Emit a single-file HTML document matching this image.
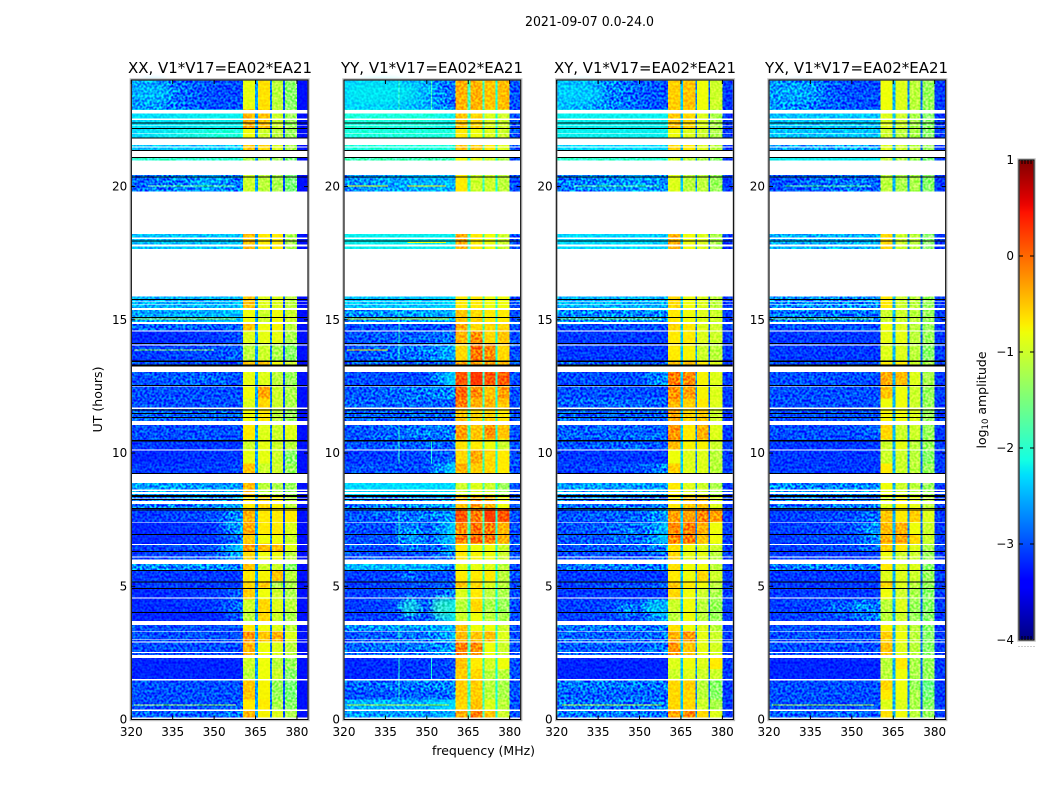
<!DOCTYPE html>
<html lang="en">
<head>
<meta charset="utf-8">
<title>2021-09-07 0.0-24.0</title>
<style>
html,body{margin:0;padding:0;background:#fff;}
svg{display:block;}
text{font-family:"DejaVu Sans","Liberation Sans",sans-serif;fill:#000;}
</style>
</head>
<body>
<svg id="figure" xmlns="http://www.w3.org/2000/svg" width="1050" height="800" viewBox="0 0 1050 800">
  <defs id="chart-defs">
    <filter id="speckle" x="0" y="0" width="100%" height="100%" color-interpolation-filters="sRGB">
      <feTurbulence type="fractalNoise" baseFrequency="0.42" numOctaves="1" seed="7"/>
      <feColorMatrix type="matrix" values="2.6 0 0 0 -0.8  2.6 0 0 0 -0.8  2.6 0 0 0 -0.8  0 0 0 0 1"/>
    </filter>
    <filter id="soften" x="-60%" y="-120%" width="220%" height="340%">
      <feGaussianBlur stdDeviation="4"/>
    </filter>
    <linearGradient id="jet-gradient" x1="0" y1="1" x2="0" y2="0"></linearGradient>
  </defs>
  <rect x="0" y="0" width="1050" height="800" fill="#fff"/>
  <text x="589.5" y="26" font-size="13" text-anchor="middle" textLength="129" lengthAdjust="spacingAndGlyphs">2021-09-07 0.0-24.0</text>

  <g id="panel-0">
    <text x="220" y="73" font-size="15" text-anchor="middle" textLength="184" lengthAdjust="spacingAndGlyphs">XX, V1*V17=EA02*EA21</text>
  </g>
  <g id="panel-1">
    <text x="432" y="73" font-size="15" text-anchor="middle" textLength="182" lengthAdjust="spacingAndGlyphs">YY, V1*V17=EA02*EA21</text>
  </g>
  <g id="panel-2">
    <text x="645" y="73" font-size="15" text-anchor="middle" textLength="182" lengthAdjust="spacingAndGlyphs">XY, V1*V17=EA02*EA21</text>
  </g>
  <g id="panel-3">
    <text x="856.5" y="73" font-size="15" text-anchor="middle" textLength="183" lengthAdjust="spacingAndGlyphs">YX, V1*V17=EA02*EA21</text>
  </g>

  <text x="483.5" y="755" font-size="12" text-anchor="middle" textLength="103" lengthAdjust="spacingAndGlyphs">frequency (MHz)</text>
  <text transform="translate(102,399.5) rotate(-90)" font-size="12" text-anchor="middle" textLength="66" lengthAdjust="spacingAndGlyphs">UT (hours)</text>
  <text transform="translate(986,400) rotate(-90)" font-size="12.5" text-anchor="middle">log<tspan font-size="8.5" dy="2">10</tspan><tspan dy="-2"> amplitude</tspan></text>

  <g id="colorbar"></g>
</svg>

<script>
// ---------- chart data (all values are log10 amplitude, read by eye) ----------
const frequencyTicks = [320, 335, 350, 365, 380];
const utTicks = [0, 5, 10, 15, 20];
const colorbarTicks = [1, 0, -1, -2, -3, -4];
const colorbarTickLabels = ['1', '0', '\u22121', '\u22122', '\u22123', '\u22124'];

// Frequency anchors (MHz) of the background levels / RFI band / notch columns
const bgAnchors = [320, 350, 360.4];
const bandEdges = [[360.4, 364.8], [365.8, 370.2], [370.9, 374.9], [375.6, 380]];
const notchEdges = [[364.8, 365.8], [370.2, 370.9], [374.9, 375.6], [380, 384]];

// UT blocks (hours)
const utRows = [
[0.07,0.35],[0.35,0.75],[0.75,1.1],[1.1,1.5],[1.5,1.9],[1.9,2.3],[2.3,2.9],[2.9,3.3],[3.3,3.7],[3.7,4.05],
[4.05,4.5],[4.5,4.95],[4.95,5.2],[5.2,5.6],[5.6,6],[6,6.3],[6.3,6.6],[6.6,6.95],[6.95,7.4],[7.4,7.9],
[7.9,8.4],[8.4,8.9],[9.2,9.6],[9.6,10.1],[10.1,10.5],[10.5,11.05],[11.05,11.65],[11.65,12.05],[12.05,12.5],[12.5,13.05],
[13.05,13.46],[13.46,14.1],[14.1,14.6],[14.6,14.9],[14.9,15.4],[15.4,15.9],[17.65,18.22],[19.81,20.44],[20.44,21.1],[21.1,21.57],
[21.57,22.2],[22.2,22.9],[22.9,24]];

// Each row: bg-left, bg-mid, bg-right, band1, band2, band3, band4
const xxRows = [
[-2.9,-2.9,-2.8,-.4,-.75,-.9,-1.2],[-3,-3,-2.9,-.7,-.7,-1.2,-1.4],[-3,-3,-3,-.5,-.75,-1.3,-1.5],[-3,-3,-3,-.5,-.75,-1.3,-1.5],[-3.2,-3.2,-3.2,-1.1,-.8,-1,-1.4],
[-3.2,-3.2,-3.2,-1,-.8,-1.1,-1.3],[-3,-3,-3,-.4,-.8,-.9,-1.1],[-3,-3,-3,-.25,-.5,-.4,-.9],[-3,-3,-3,-.7,-.8,-.9,-1.1],[-3.2,-3.2,-2.9,-1.1,-.6,-1,-1.2],
[-3.2,-3.1,-2.8,-1,-.6,-.9,-1.1],[-3.2,-3.1,-2.9,-.55,-.8,-1,-1.2],[-3.1,-3.1,-3.1,-.6,-.5,-1.2,-1.2],[-3.1,-3.1,-3.1,-.7,-.75,-.5,-1.1],[-2.7,-2.7,-2.8,-.5,-1,-1,-1.4],
[-3.1,-3,-2.5,-.6,-.8,-.8,-1.1],[-3.1,-3,-2.3,-.3,-.45,-.45,-.9],[-3.2,-3.1,-2.8,-.55,-.8,-.8,-1],[-3.2,-3.1,-2.5,-.35,-.7,-.7,-.9],[-3.1,-3,-2.6,-.4,-.7,-.7,-.7],
[-2.8,-2.7,-2.6,-.7,-.6,-.75,-1.1],[-2.6,-2.6,-2.6,-.45,-1.1,-1.2,-1.3],[-3.1,-3.1,-3,-.5,-1,-1,-1.3],[-3.2,-3.1,-3.1,-.85,-.85,-1,-1.4],[-3.1,-3.1,-3.1,-1,-.85,-1,-1.1],
[-3,-3,-3,-.7,-.9,-1,-.9],[-2.9,-2.9,-2.9,-.8,-.7,-1.1,-1.3],[-3,-3,-3,-.9,-.6,-1,-1.2],[-3,-3,-3,-.8,-.35,-1,-1.2],[-3,-2.9,-3,-.85,-.9,-1.1,-1.3],
[-3,-3,-3,-.5,-.5,-.8,-1],[-3.1,-3,-2.9,-1.1,-1,-1.2,-1.4],[-3.2,-3.1,-3,-.9,-.85,-.85,-1.2],[-2.9,-2.9,-2.9,-.5,-.8,-.75,-1.1],[-2.6,-2.5,-2.4,-.8,-1,-.8,-1],
[-2.5,-2.5,-2.4,-.5,-.9,-.9,-1.1],[-2.4,-2.4,-2.4,-.45,-.7,-.7,-1.2],[-2.9,-2.6,-2.8,-1,-1.1,-1.2,-1.5],[-2,-2,-2,-1.2,-1.2,-1.3,-1.5],[-2.4,-2.4,-2.4,-.5,-.6,-.9,-1.2],
[-2.3,-2.1,-2.1,-.8,-1,-1.1,-1.3],[-2.3,-2.2,-2.2,-.4,-.5,-1,-1.3],[-2.6,-3,-3,-.85,-.65,-1.1,-1.4]];

const yyRows = [
[-2.6,-2.6,-2.5,-.35,-.1,-.5,-1],[-2.5,-2.5,-2.3,-.6,-.5,-.9,-1.1],[-3,-2.9,-2.8,-.55,-.55,-1.1,-1.2],[-2.9,-2.8,-2.7,-.55,-.55,-1.1,-1.2],[-3.2,-3.1,-3,-.55,-.6,-1.1,-1.1],
[-3.2,-3.1,-3,-.5,-.7,-.95,-.8],[-2.9,-2.8,-2.6,-.1,-.2,-.8,-1],[-3,-2.8,-2.5,-.45,-.5,-.45,-.9],[-2.7,-2.6,-2.5,-.5,-.8,-.8,-1],[-3.1,-3,-2.2,-1,-.8,-1.1,-1.2],
[-3.1,-3,-2.2,-1.1,-.6,-1.2,-1.3],[-3.1,-3,-2.8,-.9,-.7,-1.1,-1.2],[-3.1,-3,-2.9,-.5,-.6,-.9,-1.1],[-3.1,-3,-3,-.7,-.7,-.7,-1.1],[-2.5,-2.5,-2.7,-.85,-.85,-.9,-1.1],
[-3,-3,-2.7,-.7,-.75,-.8,-1],[-3,-3,-2.5,-.7,-.8,-.8,-1],[-3,-3,-2.3,-.1,0,-.1,-.4],[-3,-3,-2.3,-.2,-.05,-.1,-.4],[-3,-2.8,-2.6,.1,-.1,.25,.1],
[-2.8,-2.7,-2.6,-.5,-.3,-.4,-.8],[-2.3,-2.3,-2.3,-1,-.9,-1,-1.3],[-3,-3,-2.3,-.4,-.55,-.6,-.7],[-3.1,-3,-2.9,-.6,-.35,-.6,-.7],[-3,-2.9,-2.9,-.65,-.7,-.8,-1],
[-3,-2.8,-2.8,-.3,-.5,-.25,-.5],[-2.9,-2.9,-2.9,-.5,-.6,-.6,-.7],[-2.9,-2.9,-2.9,-.1,-.4,-.4,-.5],[-3,-2.8,-2.7,0,-.2,-.5,-.3],[-3,-3,-2.3,.1,.25,.1,.05],
[-2.9,-2.9,-2.9,-.3,-.3,-.3,-.5],[-3,-2.8,-2.5,-.6,-.05,-.2,-.6],[-3,-2.9,-2.8,-.4,-.2,-.6,-.5],[-3,-3,-3,-.35,-.6,-.6,-.6],[-2.7,-2.6,-2.5,-.5,-.6,-.7,-.7],
[-2.4,-2.4,-2.3,-.7,-.7,-.8,-.8],[-2.2,-2.2,-2.2,-.35,-.7,-.8,-1],[-2.7,-2.5,-2.5,-.7,-1,-1,-1.1],[-1.9,-1.9,-1.9,-.8,-.9,-1,-1.2],[-2.1,-2.1,-2.1,-.5,-.5,-.7,-.9],
[-2.1,-2.1,-2.1,-.7,-.8,-.9,-1],[-2.1,-2.1,-2.2,-.5,-.6,-.9,-1],[-2.3,-2.5,-2.9,-.4,-.4,-.5,-.45]];

const xyRows = [
[-2.8,-2.8,-2.8,-.35,-.2,-.6,-.9],[-2.8,-2.8,-2.8,-.6,-.6,-1,-1.2],[-2.9,-2.9,-2.9,-.6,-.6,-1.1,-1.4],[-2.8,-2.8,-2.8,-.6,-.55,-1.1,-1.4],[-3.2,-3.2,-3.2,-1,-.9,-1,-1],
[-3.2,-3.2,-3.2,-.9,-.8,-.9,-.7],[-2.9,-2.9,-2.8,-.25,-.5,-.85,-.95],[-2.9,-2.9,-2.8,-.4,-.25,-.85,-1],[-2.8,-2.8,-2.8,-.65,-.8,-.9,-1.1],[-3.1,-3,-2.5,-1.1,-.8,-1.1,-1.3],
[-3.1,-3,-2.5,-1,-.8,-1.1,-1.3],[-3.1,-3.1,-3.1,-.6,-.8,-1,-1.2],[-3.1,-3,-2.9,-.5,-.7,-.8,-1.1],[-3.1,-3.1,-3.1,-.7,-.8,-.6,-1],[-2.8,-2.8,-2.8,-.65,-.8,-.8,-1.1],
[-3,-3,-2.8,-.6,-.85,-.85,-1.1],[-3,-2.9,-2.7,-.65,-.8,-.9,-1],[-3,-2.9,-2.4,-.15,-.1,-.5,-.8],[-3,-2.9,-2.4,-.2,-.1,-.4,-.8],[-3,-2.9,-2.6,-.3,-.3,-.15,-.3],
[-2.8,-2.8,-2.8,-.7,-.5,-.5,-.9],[-2.6,-2.6,-2.6,-.7,-.9,-1,-1.2],[-3.1,-3,-2.7,-.55,-.9,-.9,-1.1],[-3.1,-3.1,-3.1,-.8,-.9,-.9,-1.1],[-3,-2.9,-3,-.45,-.75,-.75,-1],
[-2.9,-2.9,-2.9,-.25,-.7,-.4,-.9],[-2.9,-2.9,-2.9,-.35,-.6,-.5,-1],[-2.9,-2.9,-2.9,-.4,-.55,-.7,-.9],[-3,-3,-3,-.2,-.3,-.75,-.9],[-3,-3,-2.6,-.1,-.2,-.75,-.9],
[-2.9,-2.9,-2.9,-.5,-.5,-.7,-.9],[-3.1,-3.1,-3.1,-.7,-.75,-1,-1.1],[-3.1,-3.1,-3.1,-.7,-.7,-.9,-1],[-3,-3,-3,-.6,-.7,-.9,-1],[-2.7,-2.7,-2.7,-.7,-.8,-.9,-1],
[-2.5,-2.5,-2.5,-.6,-.8,-.9,-1.1],[-2.3,-2.3,-2.4,-.4,-.8,-.9,-1.2],[-2.8,-2.6,-2.7,-.9,-1.1,-1.1,-1.3],[-2,-2,-2,-1,-1.1,-1.2,-1.4],[-2.3,-2.3,-2.3,-.6,-.7,-.9,-1.1],
[-2.2,-2.2,-2.2,-.8,-.9,-1,-1.2],[-2.2,-2.2,-2.2,-.5,-.6,-.9,-1.2],[-2.4,-2.9,-3,-.55,-.5,-.8,-1]];

const yxRows = [
[-2.9,-2.9,-2.9,-.65,-.8,-1.1,-1.3],[-3,-3,-3,-.9,-.9,-1.2,-1.4],[-3,-3,-3,-.7,-.8,-1.2,-1.5],[-3,-3,-3,-.6,-.8,-1.3,-1.6],[-3.2,-3.2,-3.2,-1.1,-.8,-1.2,-1.3],
[-3.2,-3.2,-3.2,-1.1,-.7,-1.2,-1.3],[-3,-3,-3,-.5,-.9,-1.1,-1.4],[-3,-3,-3,-.55,-.8,-1.1,-1.4],[-3,-3,-3,-.75,-.9,-1.1,-1.4],[-3.1,-3,-2.7,-1.1,-1,-1.3,-1.4],
[-3.1,-3,-2.8,-1.1,-.9,-1.3,-1.4],[-3.1,-3.1,-3.1,-.8,-1,-1.2,-1.4],[-3.1,-3.1,-3.1,-.55,-.9,-1.1,-1.3],[-3.1,-3.1,-3.1,-.9,-.9,-1,-1.3],[-2.8,-2.8,-2.8,-.7,-.9,-.9,-1.4],
[-3.1,-3.1,-3.1,-.8,-1,-1,-1.3],[-3.1,-3,-2.8,-.55,-.7,-.9,-1.2],[-3.1,-3,-2.7,-.4,-.35,-.6,-1],[-3.1,-3,-2.6,-.45,-.4,-.8,-1],[-3.1,-3,-2.8,-.5,-.7,-.55,-.9],
[-2.8,-2.8,-2.8,-.9,-.75,-.85,-1.1],[-2.7,-2.7,-2.7,-.8,-1,-1.1,-1.3],[-3.1,-3.1,-3.1,-.7,-1,-1.1,-1.3],[-3.1,-3.1,-3.1,-1,-1,-1.1,-1.4],[-3.1,-3.1,-3.1,-1,-.85,-1.1,-1.3],
[-3,-3,-2.9,-.6,-1,-1,-1.3],[-3,-3,-3,-.75,-.8,-.9,-1.3],[-3,-3,-3,-.8,-.8,-1,-1.3],[-3,-3,-3,-.5,-.8,-1,-1.3],[-3,-3,-3,-.35,-.45,-.9,-1.2],
[-3,-3,-3,-.7,-.7,-1,-1.2],[-3.1,-3.1,-3.1,-.9,-.9,-1.1,-1.4],[-3.1,-3.1,-3.1,-.85,-.85,-1.1,-1.3],[-3,-3,-3,-.8,-.9,-1.1,-1.3],[-2.8,-2.8,-2.8,-1,-1,-1.1,-1.3],
[-2.7,-2.7,-2.7,-.7,-1,-1.1,-1.3],[-2.5,-2.5,-2.5,-.6,-1,-1.1,-1.4],[-3,-2.8,-2.9,-1.1,-1.2,-1.2,-1.4],[-2.2,-2.2,-2.2,-1.1,-1.2,-1.3,-1.5],[-2.6,-2.6,-2.6,-.9,-1,-1.1,-1.3],
[-2.4,-2.4,-2.4,-1,-1.1,-1.2,-1.4],[-2.4,-2.4,-2.4,-.9,-1,-1.2,-1.4],[-2.6,-3,-3,-.8,-.9,-1.1,-1.3]];

// Notch levels per panel: notch1, notch2, notch3, upper edge
const xxNotches = [-2.6, -2.8, -3.0, -3.3];
const yyNotches = [-1.9, -1.9, -2.1, -3.0];
const xyNotches = [-2.4, -2.7, -2.9, -3.1];
const yxNotches = [-2.5, -2.7, -2.9, -3.1];

// Diffuse emission patches: ut, MHz, half-width (MHz), half-height (hours), level
const xxPatches = [[23.5,328,7,.45,-2.4],[20.1,346,4,.2,-2.5]];
const yyPatches = [[4.2,344,4,.35,-2.1],[4.2,355.5,4,.38,-1.9],[5.45,343.5,2.5,.15,-2.5],[6.75,345,5,.3,-2.4],[7.2,344,5,.25,-2.6],[23.5,334,13,.45,-2.2]];
const xyPatches = [[4.15,345,4,.2,-2.5],[4.2,355,4,.2,-2.2],[23.5,329,8,.4,-2.3],[7.05,345,5,.2,-2.7]];
const yxPatches = [[4.2,353.5,4,.2,-2.5],[4.2,345,4,.15,-2.7],[23.5,331,8,.4,-2.5]];

// Completely flagged (white) UT ranges
const flaggedRanges = [
[0,.07],[.32,.38],[1.46,1.52],[2.31,2.42],[2.5,2.54],[2.89,2.92],[2.98,3.01],[3.3,3.33],[3.54,3.7],[4.54,4.57],
[5.84,6],[6.08,6.11],[6.55,6.58],[7.39,7.42],[8.09,8.2],[8.24,8.3],[8.46,8.54],[8.58,8.64],[8.87,9.22],[10.1,10.14],
[11.05,11.21],[11.66,11.7],[12.49,12.52],[13.04,13.24],[14.03,14.07],[14.57,14.6],[14.84,14.92],[15.37,15.45],[15.57,15.6],[15.66,15.69],
[15.88,17.66],[17.76,17.82],[18.04,18.08],[18.22,19.81],[20.44,20.98],[21.1,21.35],[21.46,21.5],[21.57,21.83],[21.99,22.02],[22.27,22.3],
[22.5,22.55],[22.75,22.87]];

// Zero-amplitude (black) UT ranges
const blackRanges = [
[4.01,4.04],[4.9,4.94],[5.14,5.17],[5.59,5.62],[6.29,6.32],[6.94,6.97],[7.85,7.88],[7.91,7.94],[8.24,8.27],[8.35,8.38],
[8.39,8.42],[9.22,9.25],[10.44,10.49],[11.32,11.35],[11.48,11.51],[11.6,11.63],[12.53,12.56],[13.24,13.32],[13.42,13.47],[14.1,14.13],
[15.08,15.11],[15.75,15.78],[17.94,17.97],[20.35,20.38],[21.08,21.11],[21.35,21.38],[21.82,21.85],[22.17,22.2],[22.37,22.4]];

// Narrow RFI streaks: ut, start MHz, end MHz, level
const xxStreaks = [[.55,321,358,-1.3],[13.87,321,350,-1.4],[15.03,321,358,-1.2],[20.03,326,357,-1.6]];
const yyStreaks = [[.55,321,358,-1.1],[13.87,321,336,-.6],[15.03,321,358,-.8],[20.03,321,336,-.8],[20.03,343,357,-.7],[17.9,343,357,-.8]];
const xyStreaks = [[.55,322,358,-1.1],[15.03,321,358,-1.4],[20.03,326,357,-1.7]];
const yxStreaks = [[.55,321,358,-1.2],[15.03,321,358,-1.5],[20.03,326,357,-1.7]];

// Vertical RFI streaks in the YY panel: MHz, start UT, end UT, level
const yyVerticalStreaks = [
[340,.8,2.3,-2],[340,3,3.7,-2],[340,6.5,8,-2],[340,9.6,11,-2],[340,13.5,15.3,-2],[340,22.9,24,-1.9],
[351.6,1.5,2.3,-2.1],[351.6,9.6,10.5,-2.1],[351.6,22.9,24,-1.9]];

const panelLefts = [131.3, 344, 556.7, 769];
const panelRows = [xxRows, yyRows, xyRows, yxRows];
const panelNotches = [xxNotches, yyNotches, xyNotches, yxNotches];
const panelStreaks = [xxStreaks, yyStreaks, xyStreaks, yxStreaks];
const panelPatches = [xxPatches, yyPatches, xyPatches, yxPatches];
const panelKeys = ['xx', 'yy', 'xy', 'yx'];

// ---------- scales ----------
const NS = 'http://www.w3.org/2000/svg';
const plotWidth = 176.7, plotTop = 80, plotBottom = 719.5;
const freqMin = 320, freqMax = 384, utMax = 24, colorMin = -4, colorMax = 1;

function xScale(left, f) { return left + (f - freqMin) / (freqMax - freqMin) * plotWidth; }
function yScale(ut) { return plotBottom - ut / utMax * (plotBottom - plotTop); }
function clamp01(v) { return Math.max(0, Math.min(1, v)); }
function jet(t) {
  const r = t < .35 ? 0 : t < .66 ? (t - .35) / .31 : t < .89 ? 1 : 1 - (t - .89) / .11 * .5;
  const g = t < .125 ? 0 : t < .375 ? (t - .125) / .25 : t < .64 ? 1 : t < .91 ? 1 - (t - .64) / .27 : 0;
  const b = t < .11 ? .5 + t / .11 * .5 : t < .34 ? 1 : t < .65 ? 1 - (t - .34) / .31 : 0;
  return 'rgb(' + Math.round(r * 255) + ',' + Math.round(g * 255) + ',' + Math.round(b * 255) + ')';
}
function colorScale(v) { return jet(clamp01((v - colorMin) / (colorMax - colorMin))); }

function makeRect(parent, x, y, w, h, fill) {
  const r = document.createElementNS(NS, 'rect');
  r.setAttribute('x', x.toFixed(2));
  r.setAttribute('y', y.toFixed(2));
  r.setAttribute('width', Math.max(w, 0).toFixed(2));
  r.setAttribute('height', Math.max(h, 0).toFixed(2));
  r.setAttribute('fill', fill);
  r.setAttribute('shape-rendering', 'crispEdges');
  parent.appendChild(r);
  return r;
}
function makeLine(parent, x1, y1, x2, y2) {
  const l = document.createElementNS(NS, 'line');
  l.setAttribute('x1', x1);
  l.setAttribute('y1', y1);
  l.setAttribute('x2', x2);
  l.setAttribute('y2', y2);
  l.setAttribute('stroke', '#000');
  l.setAttribute('stroke-width', '1');
  parent.appendChild(l);
  return l;
}
function makeText(parent, x, y, anchor, str) {
  const t = document.createElementNS(NS, 'text');
  t.setAttribute('x', x);
  t.setAttribute('y', y);
  t.setAttribute('font-size', '12');
  t.setAttribute('text-anchor', anchor);
  t.textContent = str;
  parent.appendChild(t);
  return t;
}
function makeRowGradient(id, left, levels) {
  const g = document.createElementNS(NS, 'linearGradient');
  g.setAttribute('id', id);
  g.setAttribute('gradientUnits', 'userSpaceOnUse');
  g.setAttribute('x1', xScale(left, bgAnchors[0]).toFixed(2));
  g.setAttribute('x2', xScale(left, bgAnchors[2]).toFixed(2));
  g.setAttribute('y1', '0');
  g.setAttribute('y2', '0');
  const span = bgAnchors[2] - bgAnchors[0];
  bgAnchors.forEach(function (f, k) {
    const stop = document.createElementNS(NS, 'stop');
    stop.setAttribute('offset', ((f - bgAnchors[0]) / span).toFixed(3));
    stop.setAttribute('stop-color', colorScale(levels[k]));
    g.appendChild(stop);
  });
  document.getElementById('chart-defs').appendChild(g);
}

// ---------- panels ----------
panelLefts.forEach(function (left, p) {
  const host = document.getElementById('panel-' + p);
  const rows = panelRows[p];
  const notches = panelNotches[p];

  const heat = document.createElementNS(NS, 'g');
  
  
  heat.setAttribute('style', 'isolation:isolate');
  host.appendChild(heat);

  // background cells first
  utRows.forEach(function (span, i) {
    const yTop = yScale(span[1]);
    const h = yScale(span[0]) - yTop;
    const gradId = 'row-' + p + '-' + i;
    makeRowGradient(gradId, left, rows[i]);
    const x0 = xScale(left, bgAnchors[0]);
    const cell = makeRect(heat, x0, yTop, xScale(left, bgAnchors[2]) - x0, h, 'url(#' + gradId + ')');
    
    
  });

  // diffuse patches on the background
  panelPatches[p].forEach(function (s) {
    const e = document.createElementNS(NS, 'ellipse');
    const cx = xScale(left, s[1]);
    const cy = yScale(s[0]);
    e.setAttribute('cx', cx.toFixed(2));
    e.setAttribute('cy', cy.toFixed(2));
    e.setAttribute('rx', (xScale(left, s[1] + s[2]) - cx).toFixed(2));
    e.setAttribute('ry', (cy - yScale(s[0] + s[3])).toFixed(2));
    e.setAttribute('fill', colorScale(s[4]));
    e.setAttribute('fill-opacity', '0.7');
    e.setAttribute('filter', 'url(#soften)');
    
    
    heat.appendChild(e);
  });

  // mask patch overflow beyond the left frame edge
  const patchMask = makeRect(host, left - 14, plotTop - 4, 14, plotBottom - plotTop + 8, '#fff');
  
  

  // RFI bands and notches
  utRows.forEach(function (span, i) {
    const yTop = yScale(span[1]);
    const h = yScale(span[0]) - yTop;
    for (let c = 0; c < 4; c++) {
      const x0 = xScale(left, bandEdges[c][0]);
      const cell = makeRect(heat, x0, yTop, xScale(left, bandEdges[c][1]) - x0, h, colorScale(rows[i][c + 3]));
      
      
      const nx = xScale(left, notchEdges[c][0]);
      const notch = makeRect(heat, nx, yTop, xScale(left, notchEdges[c][1]) - nx, h, colorScale(notches[c]));
      
      
    }
  });

  panelStreaks[p].forEach(function (s) {
    const x0 = xScale(left, s[1]);
    const streak = makeRect(heat, x0, yScale(s[0]) - .5, xScale(left, s[2]) - x0, 1, colorScale(s[3]));
    
    
  });
  if (p === 1) {
    yyVerticalStreaks.forEach(function (s) {
      const yTop = yScale(s[2]);
      const streak = makeRect(heat, xScale(left, s[0]) - .5, yTop, 1, yScale(s[1]) - yTop, colorScale(s[3]));
      
      
    });
  }

  // grain texture: strong on the background, gentler on the RFI bands
  const bandLeft = xScale(left, bgAnchors[2]);
  const bandRight = xScale(left, 380);
  const grainLeft = makeRect(heat, left, plotTop, bandLeft - left, plotBottom - plotTop, '#808080');
  grainLeft.setAttribute('filter', 'url(#speckle)');
  grainLeft.setAttribute('style', 'mix-blend-mode:overlay');
  
  
  const grainBand = makeRect(heat, bandLeft, plotTop, bandRight - bandLeft, plotBottom - plotTop, '#808080');
  grainBand.setAttribute('filter', 'url(#speckle)');
  grainBand.setAttribute('style', 'mix-blend-mode:overlay;opacity:.6');
  
  
  const grainEdge = makeRect(heat, bandRight, plotTop, left + plotWidth - bandRight, plotBottom - plotTop, '#808080');
  grainEdge.setAttribute('filter', 'url(#speckle)');
  grainEdge.setAttribute('style', 'mix-blend-mode:overlay');
  
  

  flaggedRanges.forEach(function (s) {
    const yTop = yScale(s[1]);
    const gap = makeRect(host, left, yTop, plotWidth, yScale(s[0]) - yTop, '#fff');
    
    
  });
  blackRanges.forEach(function (s) {
    const yTop = yScale(s[1]);
    const bar = makeRect(host, left, yTop, plotWidth, Math.max(yScale(s[0]) - yTop, 1), '#000');
    
    
  });

  // frame
  const halo = makeRect(host, left - .5, plotTop - .5, plotWidth + 1, plotBottom - plotTop + 1, 'none');
  halo.setAttribute('stroke', '#bdbdbd');
  halo.setAttribute('stroke-width', '2.4');
  halo.setAttribute('shape-rendering', 'auto');
  
  
  const frame = makeRect(host, left, plotTop, plotWidth, plotBottom - plotTop, 'none');
  frame.setAttribute('stroke', '#000');
  frame.setAttribute('stroke-width', '1');
  frame.setAttribute('shape-rendering', 'auto');
  
  

  // ticks and labels
  const xAxis = document.createElementNS(NS, 'g');
  
  
  host.appendChild(xAxis);
  frequencyTicks.forEach(function (f) {
    const x = xScale(left, f);
    makeLine(xAxis, x, plotBottom, x, plotBottom - 4);
    makeLine(xAxis, x, plotTop, x, plotTop + 4);
    const label = makeText(xAxis, x, 736, 'middle', String(f));
    
    
  });
  const yAxis = document.createElementNS(NS, 'g');
  
  
  host.appendChild(yAxis);
  utTicks.forEach(function (u) {
    const y = yScale(u);
    makeLine(yAxis, left, y, left + 4, y);
    makeLine(yAxis, left + plotWidth, y, left + plotWidth - 4, y);
    const label = makeText(yAxis, left - 4, y + 4, 'end', String(u));
    
    
  });
});

// ---------- colorbar ----------
(function () {
  const grad = document.getElementById('jet-gradient');
  for (let i = 0; i <= 64; i++) {
    const stop = document.createElementNS(NS, 'stop');
    stop.setAttribute('offset', (i / 64).toFixed(4));
    stop.setAttribute('stop-color', jet(i / 64));
    grad.appendChild(stop);
  }
  const bar = document.getElementById('colorbar');
  const cbLeft = 1019, cbRight = 1034, cbTop = 160, cbBottom = 640;
  function cbY(v) { return cbBottom - (v - colorMin) / (colorMax - colorMin) * (cbBottom - cbTop); }

  const fill = makeRect(bar, cbLeft, cbTop, cbRight - cbLeft, cbBottom - cbTop, 'url(#jet-gradient)');
  
  
  const halo = makeRect(bar, cbLeft - .5, cbTop - .5, cbRight - cbLeft + 1, cbBottom - cbTop + 1, 'none');
  halo.setAttribute('stroke', '#bdbdbd');
  halo.setAttribute('stroke-width', '2.4');
  halo.setAttribute('shape-rendering', 'auto');
  
  
  const frame = makeRect(bar, cbLeft, cbTop, cbRight - cbLeft, cbBottom - cbTop, 'none');
  frame.setAttribute('stroke', '#000');
  frame.setAttribute('stroke-width', '1');
  frame.setAttribute('shape-rendering', 'auto');
  
  

  colorbarTicks.forEach(function (v, i) {
    const y = cbY(v);
    makeLine(bar, cbLeft, y, cbLeft + 4, y);
    makeLine(bar, cbRight, y, cbRight - 4, y);
    const label = makeText(bar, cbLeft - 5, y + 4, 'end', colorbarTickLabels[i]);
    
    
  });
  for (let i = 0; i < 6; i++) {
    const x = cbLeft + i * (cbRight - cbLeft) / 5;
    makeLine(bar, x, cbTop, x, cbTop + 4);
    makeLine(bar, x, cbBottom, x, cbBottom - 4);
    const dot = makeRect(bar, x - .5, 646, 1, 1, '#999');
    
    
  }
})();
</script>
</body>
</html>
